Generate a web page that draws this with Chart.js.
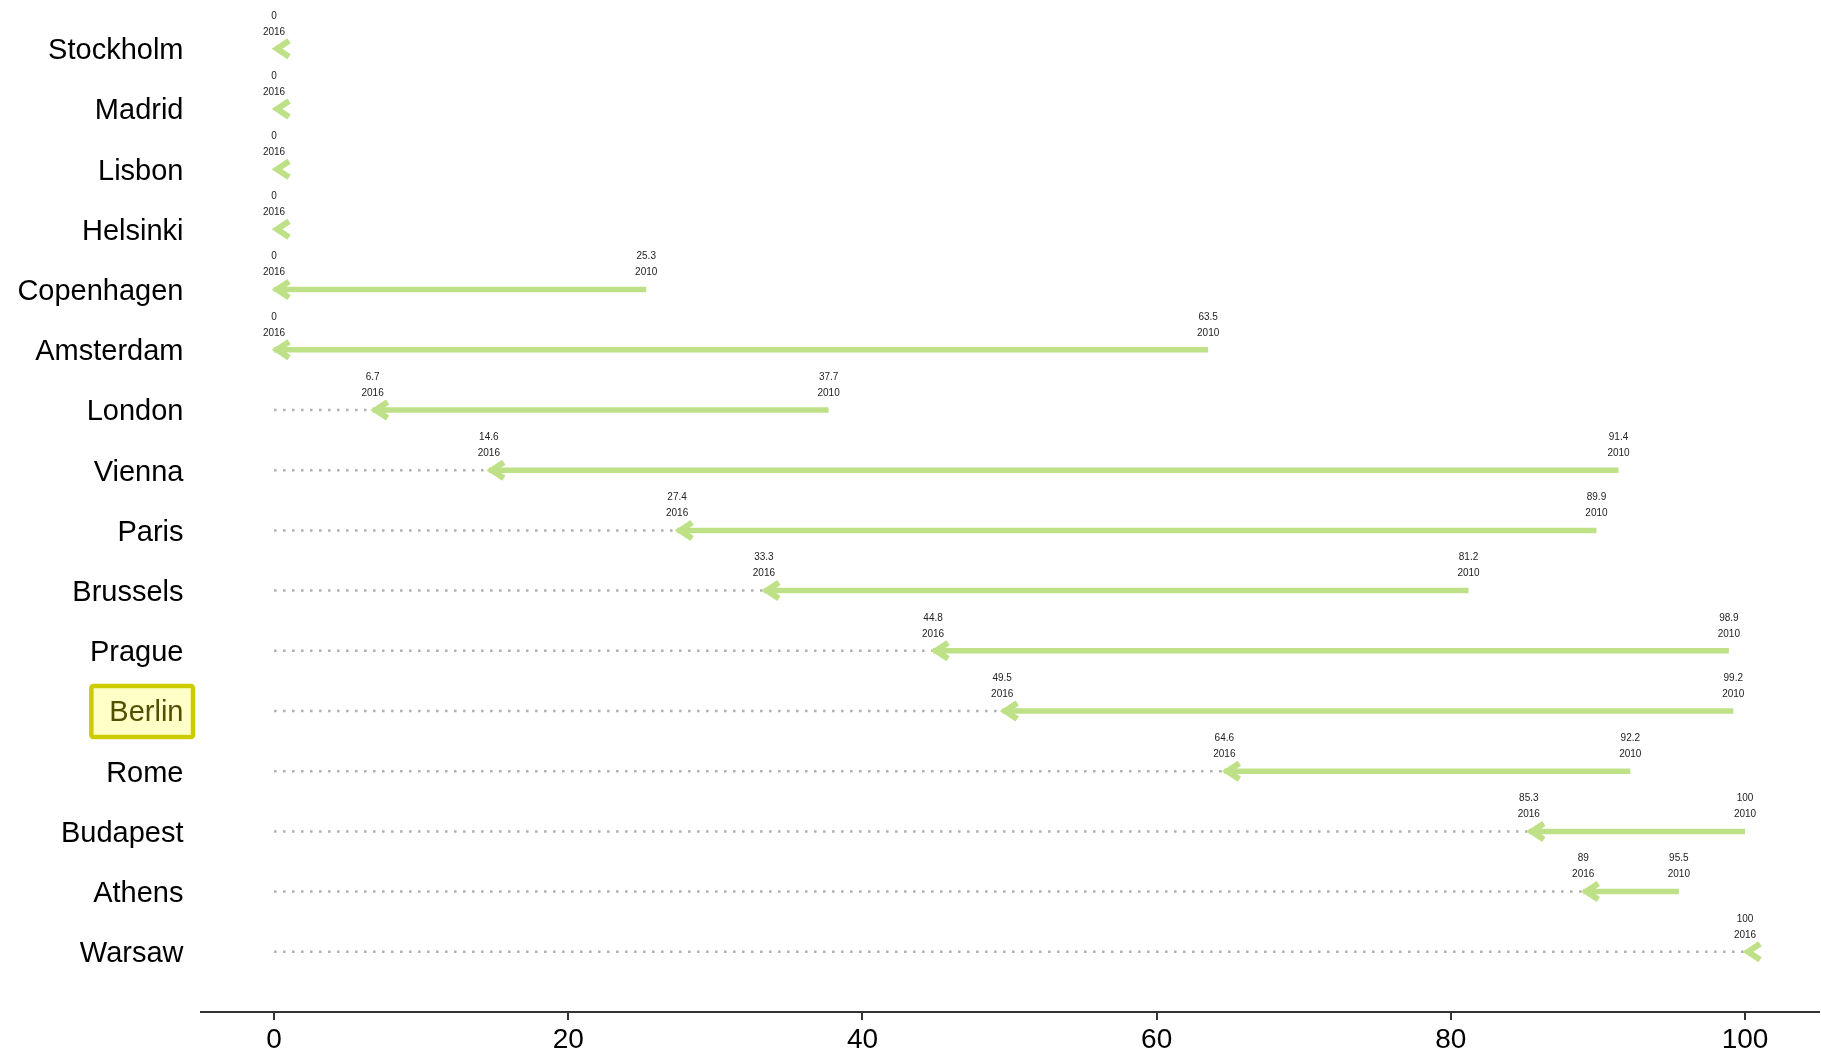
<!DOCTYPE html>
<html>
<head>
<meta charset="utf-8">
<script src="https://cdn.jsdelivr.net/npm/chart.js@4.4.1/dist/chart.umd.min.js"></script>
<style>
  html, body { margin: 0; padding: 0; background: #fff; }
  #wrap { width: 1821px; height: 1057px; position: relative; }
</style>
</head>
<body>
<div id="wrap"><canvas id="chart"></canvas></div>
<script>
// cities listed top to bottom
const cities = ['Stockholm', 'Madrid', 'Lisbon', 'Helsinki', 'Copenhagen', 'Amsterdam', 'London', 'Vienna',
  'Paris', 'Brussels', 'Prague', 'Berlin', 'Rome', 'Budapest', 'Athens', 'Warsaw'];
const values2010 = [0, 0, 0, 0, 25.3, 63.5, 37.7, 91.4, 89.9, 81.2, 98.9, 99.2, 92.2, 100, 95.5, 100];
const values2016 = [0, 0, 0, 0, 0, 0, 6.7, 14.6, 27.4, 33.3, 44.8, 49.5, 64.6, 85.3, 89, 100];
const xTicks = [0, 20, 40, 60, 80, 100];
const highlight = 'Berlin';

const green = 'rgb(190,225,135)';
const font = '"Liberation Sans", Arial, Helvetica, sans-serif';
const n = cities.length;
const rowOf = i => n - 1 - i;   // top row gets the highest y value

const datasets = [];
cities.forEach((c, i) => {
  if (values2016[i] > 0) {
    datasets.push({
      data: [{ x: 0, y: rowOf(i) }, { x: values2016[i], y: rowOf(i) }],
      borderColor: '#b0b0b0',
      borderWidth: 2.5,
      borderDash: [2.5, 6.5],
      pointRadius: 0,
      order: 2
    });
  }
  datasets.push({
    data: [{ x: values2010[i], y: rowOf(i) }, { x: values2016[i], y: rowOf(i) }],
    borderColor: green,
    borderWidth: 5.5,
    borderCapStyle: 'butt',
    pointRadius: 0,
    order: 1
  });
});

// berlin box behind its tick label
const highlightBox = {
  id: 'highlightBox',
  beforeDraw(chart) {
    const y = chart.scales.y, ctx = chart.ctx;
    const i = cities.indexOf(highlight);
    const py = y.getPixelForValue(rowOf(i));
    ctx.save();
    ctx.font = '29px ' + font;
    const w = ctx.measureText(highlight).width;
    const right = y.right - 17;
    const x0 = right - w - 18, x1 = right + 9.5;
    ctx.fillStyle = '#ffffc8';
    ctx.strokeStyle = '#cccc00';
    ctx.lineWidth = 4.5;
    ctx.beginPath();
    ctx.roundRect(x0, py - 25, x1 - x0, 51, 2);
    ctx.fill();
    ctx.stroke();
    ctx.restore();
  }
};

// arrow heads and value/year labels
const arrowHeads = {
  id: 'arrowHeads',
  afterDatasetsDraw(chart) {
    const xs = chart.scales.x, ys = chart.scales.y, ctx = chart.ctx;
    ctx.save();
    cities.forEach((c, i) => {
      const py = ys.getPixelForValue(rowOf(i));
      const p16 = xs.getPixelForValue(values2016[i]);
      ctx.strokeStyle = green;
      ctx.lineWidth = 6;
      ctx.lineJoin = 'miter';
      ctx.lineCap = 'butt';
      ctx.beginPath();
      ctx.moveTo(p16 + 15, py - 8);
      ctx.lineTo(p16 + 3, py);
      ctx.lineTo(p16 + 15, py + 8);
      ctx.stroke();

      ctx.fillStyle = '#222';
      ctx.font = '10px ' + font;
      ctx.textAlign = 'center';
      ctx.textBaseline = 'middle';
      ctx.fillText(String(values2016[i]), p16, py - 33);
      ctx.fillText('2016', p16, py - 17);
      if (values2010[i] !== values2016[i]) {
        const p10 = xs.getPixelForValue(values2010[i]);
        ctx.fillText(String(values2010[i]), p10, py - 33);
        ctx.fillText('2010', p10, py - 17);
      }
    });
    ctx.restore();
  }
};

new Chart(document.getElementById('chart'), {
  type: 'line',
  data: { datasets },
  plugins: [highlightBox, arrowHeads],
  options: {
    responsive: true,
    maintainAspectRatio: false,
    animation: false,
    layout: { padding: { top: 0, right: 2.4, bottom: 0, left: 0 } },
    plugins: { legend: { display: false }, tooltip: { enabled: false } },
    scales: {
      x: {
        type: 'linear',
        min: -5,
        max: 105,
        afterBuildTicks: s => { s.ticks = xTicks.map(v => ({ value: v })); },
        afterFit: s => { s.height = 45; s.paddingLeft = 0; s.paddingRight = 0; },
        border: { display: true, color: '#333', width: 2 },
        grid: { drawOnChartArea: false, drawTicks: true, tickLength: 8, color: '#333', lineWidth: 2 },
        ticks: { color: '#000', padding: 3, maxRotation: 0, font: { size: 28, family: font } }
      },
      y: {
        type: 'linear',
        min: -1,
        max: 15.81,
        afterBuildTicks: s => { s.ticks = cities.map((c, i) => ({ value: rowOf(i) })); },
        afterFit: s => { s.width = 200.5; s.paddingTop = 0; s.paddingBottom = 0; },
        border: { display: false },
        grid: { display: false, drawTicks: false },
        ticks: {
          padding: 17,
          labelOffset: 2.5,
          font: { size: 29, family: font },
          color: ctx => cities[n - 1 - ctx.tick.value] === highlight ? '#505000' : '#000',
          callback: v => cities[n - 1 - v]
        }
      }
    }
  }
});
</script>
</body>
</html>
